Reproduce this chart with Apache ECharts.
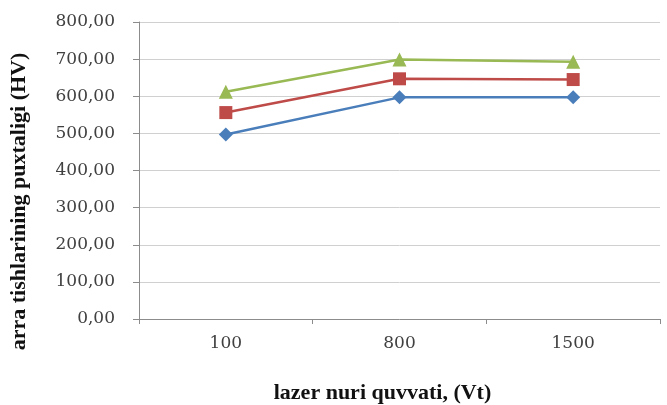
<!DOCTYPE html>
<html>
<head>
<meta charset="utf-8">
<script src="https://cdn.jsdelivr.net/npm/echarts@6/dist/echarts.min.js"></script>
<style>
  html, body { margin: 0; padding: 0; background: #fff; }
  #chart { width: 667px; height: 405px; }
</style>
</head>
<body>
<div id="chart"></div>
<script>
// Laser power categories (W)
const powers = ['100', '800', '1500'];
// Hardness of saw teeth (HV) for three series
const seriesBlue = [497, 597, 597];
const seriesRed = [556, 647, 645];
const seriesGreen = [612, 699, 693];
// Value-axis range
const yMin = 0, yMax = 800, yStep = 100;

const chart = echarts.init(document.getElementById('chart'), null, { renderer: 'canvas' });

function lineSeries(name, data, color, symbol, size) {
  return {
    name: name,
    type: 'line',
    data: data,
    symbol: symbol,
    symbolSize: size,
    lineStyle: { color: color, width: 2.5 },
    itemStyle: { color: color },
    z: 3
  };
}

const tickFont = { fontFamily: 'DejaVu Serif', fontSize: 17, color: '#404040' };
const titleFont = { fontFamily: 'Liberation Serif', fontWeight: 'bold', fontSize: 22, color: '#111' };

chart.setOption({
  animation: false,
  backgroundColor: '#ffffff',
  grid: { left: 139, top: 22, right: 7, bottom: 86, outerBoundsMode: 'none', containLabel: false },
  xAxis: {
    type: 'category',
    data: powers,
    boundaryGap: true,
    name: 'lazer nuri quvvati, (Vt)',
    nameLocation: 'middle',
    nameGap: 63,
    nameTextStyle: Object.assign({ padding: [0, 34, 0, 0] }, titleFont),
    axisLine: { lineStyle: { color: '#8c8c8c', width: 1 } },
    axisTick: { show: true, length: 5, alignWithLabel: false, lineStyle: { color: '#8c8c8c' } },
    axisLabel: Object.assign({ margin: 16 }, tickFont)
  },
  yAxis: {
    type: 'value',
    min: yMin,
    max: yMax,
    interval: yStep,
    name: 'arra tishlarining puxtaligi (HV)',
    nameLocation: 'middle',
    nameGap: 109,
    nameTextStyle: Object.assign({ padding: [0, 62, 0, 0] }, titleFont),
    axisLine: { show: true, lineStyle: { color: '#8c8c8c', width: 1 } },
    axisTick: { show: true, length: 6, lineStyle: { color: '#8c8c8c' } },
    splitLine: { show: true, lineStyle: { color: '#d0d0d0', width: 1 } },
    axisLabel: Object.assign({
      margin: 24,
      formatter: function (v) { return v.toFixed(2).replace('.', ','); }
    }, tickFont)
  },
  series: [
    lineSeries('Blue', seriesBlue, '#4a7ebb', 'diamond', 14),
    lineSeries('Red', seriesRed, '#be4b48', 'rect', 13),
    lineSeries('Green', seriesGreen, '#98b954', 'triangle', 14)
  ]
});
</script>
</body>
</html>
